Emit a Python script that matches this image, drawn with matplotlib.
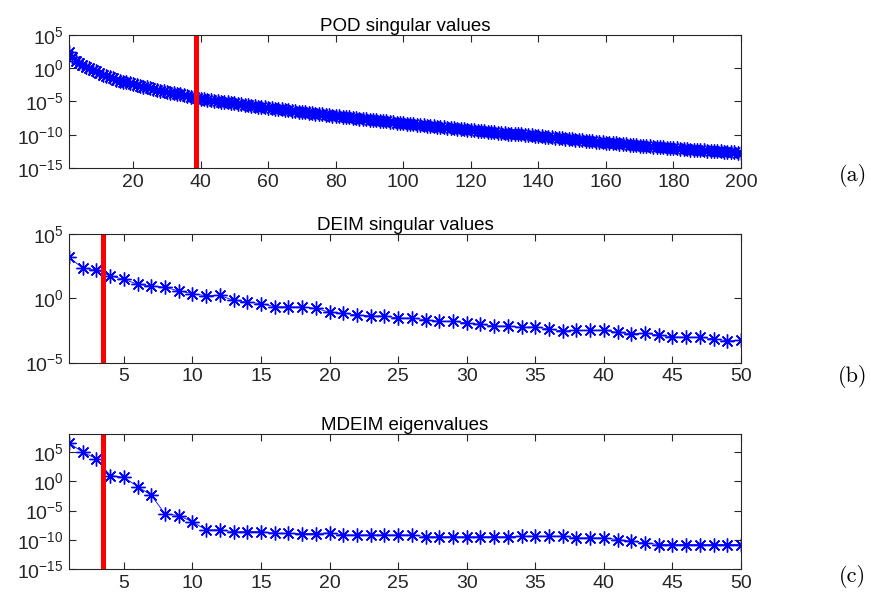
import numpy as np
import matplotlib
matplotlib.use("Agg")
import matplotlib.pyplot as plt
from matplotlib.ticker import FixedLocator, NullLocator, FuncFormatter

plt.rcParams["font.family"] = ["Liberation Sans", "DejaVu Sans"]
plt.rcParams["mathtext.default"] = "regular"

# log10 of the values
pod_log = [2.50, 1.62, 1.10, 0.78, 0.46, 0.21, -0.02, -0.27, -0.49, -0.78,
           -0.95, -1.14, -1.33, -1.52, -1.73, -1.86, -2.01, -2.14, -2.27, -2.41,
           -2.52, -2.66, -2.77, -2.88, -3.02, -3.11, -3.24, -3.36, -3.47, -3.60,
           -3.68, -3.77, -3.85, -3.93, -4.02, -4.14, -4.26, -4.40, -4.52, -4.60,
           -4.66, -4.73, -4.80, -4.86, -4.93, -5.01, -5.08, -5.15, -5.22, -5.29,
           -5.36, -5.44, -5.51, -5.58, -5.66, -5.72, -5.78, -5.84, -5.89, -5.95,
           -6.01, -6.07, -6.13, -6.20, -6.27, -6.34, -6.41, -6.47, -6.53, -6.59,
           -6.65, -6.71, -6.77, -6.83, -6.89, -6.95, -7.00, -7.06, -7.12, -7.18,
           -7.23, -7.29, -7.34, -7.40, -7.46, -7.51, -7.57, -7.62, -7.68, -7.73,
           -7.79, -7.84, -7.89, -7.95, -8.00, -8.06, -8.11, -8.16, -8.22, -8.27,
           -8.32, -8.37, -8.42, -8.47, -8.52, -8.57, -8.62, -8.67, -8.72, -8.77,
           -8.82, -8.87, -8.92, -8.97, -9.02, -9.07, -9.13, -9.18, -9.24, -9.29,
           -9.35, -9.40, -9.45, -9.50, -9.55, -9.60, -9.65, -9.70, -9.74, -9.78,
           -9.82, -9.85, -9.88, -9.91, -9.95, -9.99, -10.03, -10.08, -10.13, -10.18,
           -10.23, -10.28, -10.33, -10.38, -10.43, -10.48, -10.53, -10.58, -10.63, -10.68,
           -10.73, -10.78, -10.83, -10.88, -10.93, -10.98, -11.03, -11.08, -11.12, -11.17,
           -11.21, -11.26, -11.30, -11.35, -11.40, -11.45, -11.50, -11.55, -11.59, -11.63,
           -11.67, -11.71, -11.75, -11.79, -11.83, -11.87, -11.91, -11.94, -11.98, -12.02,
           -12.06, -12.10, -12.14, -12.18, -12.22, -12.26, -12.30, -12.33, -12.36, -12.39,
           -12.42, -12.45, -12.48, -12.51, -12.54, -12.57, -12.60, -12.63, -12.67, -12.80]

deim_log = [3.20, 2.34, 2.21, 1.74, 1.48, 1.09, 0.96, 0.86, 0.57, 0.36,
            0.20, 0.22, -0.16, -0.29, -0.42, -0.66, -0.66, -0.68, -0.78, -1.09,
            -1.17, -1.30, -1.38, -1.38, -1.54, -1.54, -1.67, -1.80, -1.78, -1.93,
            -2.03, -2.16, -2.16, -2.27, -2.22, -2.40, -2.55, -2.50, -2.50, -2.48,
            -2.66, -2.76, -2.72, -2.87, -3.00, -3.03, -3.03, -3.16, -3.31, -3.28]

mdeim_log = [6.54, 4.94, 3.87, 0.97, 0.68, -0.90, -2.38, -5.56, -5.84, -6.92,
             -8.28, -8.28, -8.62, -8.57, -8.57, -8.86, -8.88, -8.91, -8.91, -8.80,
             -9.14, -9.14, -9.14, -9.14, -9.14, -9.14, -9.45, -9.45, -9.45, -9.45,
             -9.45, -9.45, -9.45, -9.36, -9.36, -9.36, -9.36, -9.65, -9.65, -9.65,
             -9.93, -10.22, -10.50, -10.78, -10.78, -10.78, -10.78, -10.78, -10.78, -10.78]

titles = ["POD singular values", "DEIM singular values", "MDEIM eigenvalues"]
panel_tags = ["(a)", "(b)", "(c)"]
cut_x = [38.5, 3.5, 3.5]
xmax = [200, 50, 50]
xtick_list = [list(range(20, 201, 20)), list(range(5, 51, 5)), list(range(5, 51, 5))]
ylims = [(1e-15, 1e5), (1e-5, 1e5), (1e-15, 1e8)]
ytick_exp = [[-15, -10, -5, 0, 5], [-5, 0, 5], [-15, -10, -5, 0, 5]]

# axes boxes in figure fractions [left, bottom, width, height]
boxes = [[0.0792, 0.7200, 0.7715, 0.2217],
         [0.0792, 0.3958, 0.7715, 0.2142],
         [0.0792, 0.0512, 0.7715, 0.2250]]
tag_y = [0.707, 0.372, 0.040]

fig = plt.figure(figsize=(8.71, 6.0), dpi=100)
dark = "#262626"

for i, vals in enumerate([pod_log, deim_log, mdeim_log]):
    ax = fig.add_axes(boxes[i])
    x = np.arange(1, len(vals) + 1)
    y = 10.0 ** np.array(vals)
    ax.semilogy(x, y, "-", color="blue", lw=0.6, marker=(8, 2, 0),
                markersize=10, markeredgewidth=1.0, markeredgecolor="blue")
    ax.axvline(cut_x[i], color="red", lw=3.6)
    ax.set_xlim(1, xmax[i])
    ax.set_ylim(*ylims[i])
    ax.xaxis.set_major_locator(FixedLocator(xtick_list[i]))
    ax.yaxis.set_major_locator(FixedLocator([10.0 ** e for e in ytick_exp[i]]))
    ax.yaxis.set_minor_locator(NullLocator())
    ax.yaxis.set_major_formatter(FuncFormatter(
        lambda v, p: "$10^{%d}$" % int(round(np.log10(v)))))
    ax.tick_params(direction="in", length=5, width=0.8, top=True, right=True,
                   labelsize=14, colors=dark, pad=4)
    for s in ax.spines.values():
        s.set_color(dark)
        s.set_linewidth(0.8)
    ax.set_title(titles[i], fontsize=13.5, pad=3, color="black")
    fig.text(0.979, tag_y[i], panel_tags[i], fontsize=16, family="cmr10",
             ha="center", va="center")

fig.savefig("out.png", dpi=100)
